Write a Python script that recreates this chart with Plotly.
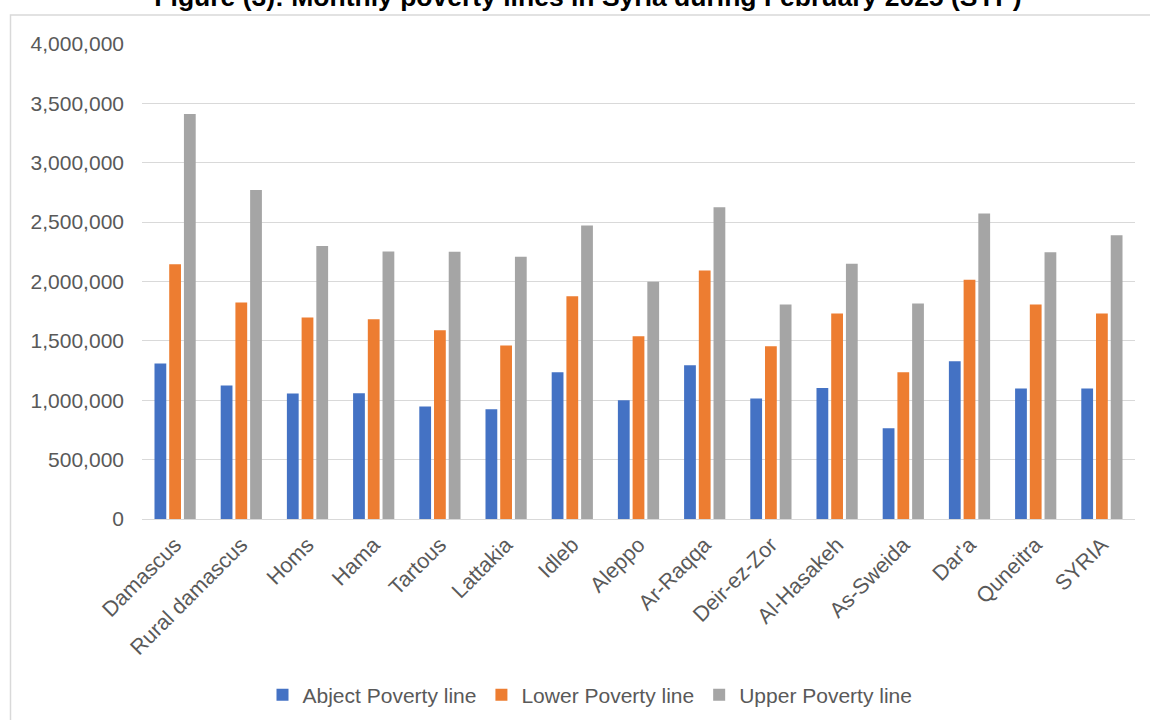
import plotly.graph_objects as go

categories = ["Damascus", "Rural damascus", "Homs", "Hama", "Tartous", "Lattakia", "Idleb",
              "Aleppo", "Ar-Raqqa", "Deir-ez-Zor", "Al-Hasakeh", "As-Sweida", "Dar'a", "Quneitra", "SYRIA"]
abject = [1309000, 1124000, 1056000, 1059000, 947000, 924000, 1236000,
          1000000, 1295000, 1014000, 1104000, 764000, 1329000, 1098000, 1098000]
lower = [2146000, 1823000, 1697000, 1683000, 1590000, 1461000, 1876000,
         1539000, 2093000, 1455000, 1730000, 1236000, 2014000, 1806000, 1730000]
upper = [3410000, 2770000, 2298000, 2253000, 2250000, 2208000, 2472000,
         1997000, 2626000, 1806000, 2149000, 1815000, 2573000, 2247000, 2390000]
series_names = ["Abject Poverty line", "Lower Poverty line", "Upper Poverty line"]
colors = ["#4472C4", "#ED7D31", "#A5A5A5"]
title_text = "Figure (3): Monthly poverty lines in Syria during February 2025 (SYP)"
y_ticks = [0, 500000, 1000000, 1500000, 2000000, 2500000, 3000000, 3500000, 4000000]

FONT = "Arial, 'Liberation Sans', sans-serif"
fig = go.Figure()
for name, vals, col in zip(series_names, [abject, lower, upper], colors):
    fig.add_trace(go.Bar(x=categories, y=vals, name=name, marker_color=col,
                         marker_line_width=0))

# plot area in pixels
L, R, T, B = 142, 1135, 44, 519
W, H = R - L, B - T
def px(x):
    return (x - L) / W
def py(y):
    return (B - y) / H

fig.update_layout(
    width=1150, height=720,
    margin=dict(l=L, r=1150 - R, t=T, b=720 - B, autoexpand=False),
    paper_bgcolor="white", plot_bgcolor="white",
    font=dict(family=FONT, color="#595959", size=21),
    title=dict(text=title_text, x=588 / 1150, xanchor="center", xref="container",
               y=1 - 6 / 720, yanchor="bottom", yref="container",
               font=dict(family=FONT, size=26.5, color="black", weight="bold")),
    barmode="group", bargap=0.333, bargroupgap=0.2,
    showlegend=True,
    legend=dict(orientation="h", x=px(590), xanchor="center", y=py(695), yanchor="middle",
                font=dict(size=21, color="#595959"), itemwidth=30, traceorder="normal"),
    xaxis=dict(tickangle=-45, showgrid=False, showline=False, ticks="",
               ticklabelstandoff=8, automargin=False,
               tickfont=dict(size=21.5, color="#595959")),
    yaxis=dict(range=[0, 4000000], tickvals=y_ticks, tickformat=",", showgrid=True,
               gridcolor="#D9D9D9", gridwidth=1.3, zeroline=True, zerolinecolor="#D9D9D9",
               zerolinewidth=1.3, ticks="", ticklabelstandoff=17, automargin=False,
               tickfont=dict(size=21, color="#595959")),
    shapes=[dict(type="rect", xref="paper", yref="paper",
                 x0=px(10.5), x1=px(1160), y0=py(730), y1=py(15),
                 line=dict(color="#D9D9D9", width=1.5), fillcolor="rgba(0,0,0,0)", layer="below")],
)
fig.write_html("out.html")
